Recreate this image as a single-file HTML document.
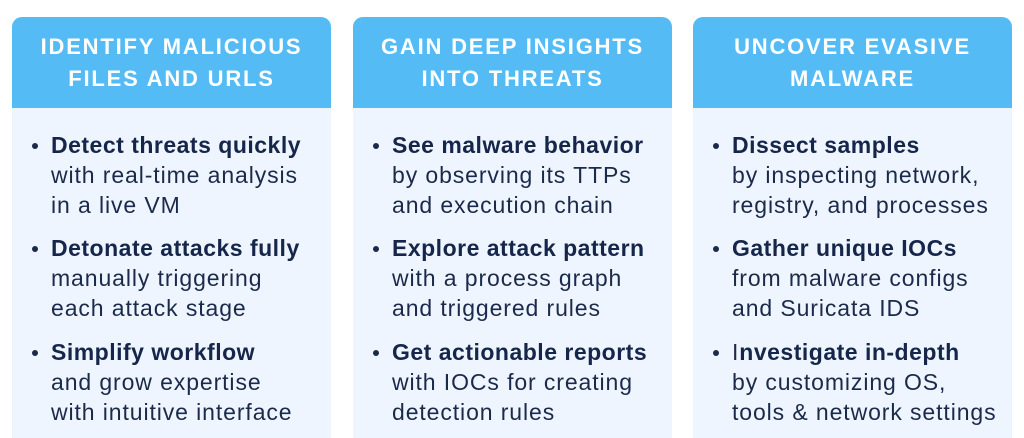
<!DOCTYPE html>
<html><head><meta charset="utf-8"><style>
body{margin:0;width:1024px;height:438px;background:#fff;position:relative;overflow:hidden;font-family:"Liberation Sans",sans-serif;}
.card{position:absolute;top:17px;width:319px;height:421px;background:#eef5fe;border-radius:10px 10px 0 0;overflow:hidden;}
.hd{height:91px;background:#55bbf5;color:#fff;font-weight:bold;font-size:22px;letter-spacing:1.8px;text-align:center;line-height:32px;padding-top:14px;box-sizing:border-box;}
.it{position:absolute;left:39px;color:#1b2a4a;font-size:23px;line-height:30px;white-space:nowrap;letter-spacing:0.9px;}
.it b{color:#15264a;letter-spacing:0.5px}
.it:before{content:"";position:absolute;left:-19px;top:13px;width:6px;height:6px;border-radius:50%;background:#1b2a4a;}
</style></head><body>
<div class="card" style="left:12px">
<div class="hd">IDENTIFY MALICIOUS<br>FILES AND URLS</div>
<div class="it" style="top:113px"><b>Detect threats quickly</b><br>with real-time analysis<br>in a live VM</div>
<div class="it" style="top:216px"><b>Detonate attacks fully</b><br>manually triggering<br>each attack stage</div>
<div class="it" style="top:320px"><b>Simplify workflow</b><br>and grow expertise<br>with intuitive interface</div>
</div>
<div class="card" style="left:353px">
<div class="hd">GAIN DEEP INSIGHTS<br>INTO THREATS</div>
<div class="it" style="top:113px"><b>See malware behavior</b><br>by observing its TTPs<br>and execution chain</div>
<div class="it" style="top:216px"><b>Explore attack pattern</b><br>with a process graph<br>and triggered rules</div>
<div class="it" style="top:320px"><b>Get actionable reports</b><br>with IOCs for creating<br>detection rules</div>
</div>
<div class="card" style="left:693px">
<div class="hd">UNCOVER EVASIVE<br>MALWARE</div>
<div class="it" style="top:113px"><b>Dissect samples</b><br>by inspecting network,<br>registry, and processes</div>
<div class="it" style="top:216px"><b>Gather unique IOCs</b><br>from malware configs<br>and Suricata IDS</div>
<div class="it" style="top:320px">I<b>nvestigate in-depth</b><br>by customizing OS,<br>tools &amp; network settings</div>
</div>
</body></html>
